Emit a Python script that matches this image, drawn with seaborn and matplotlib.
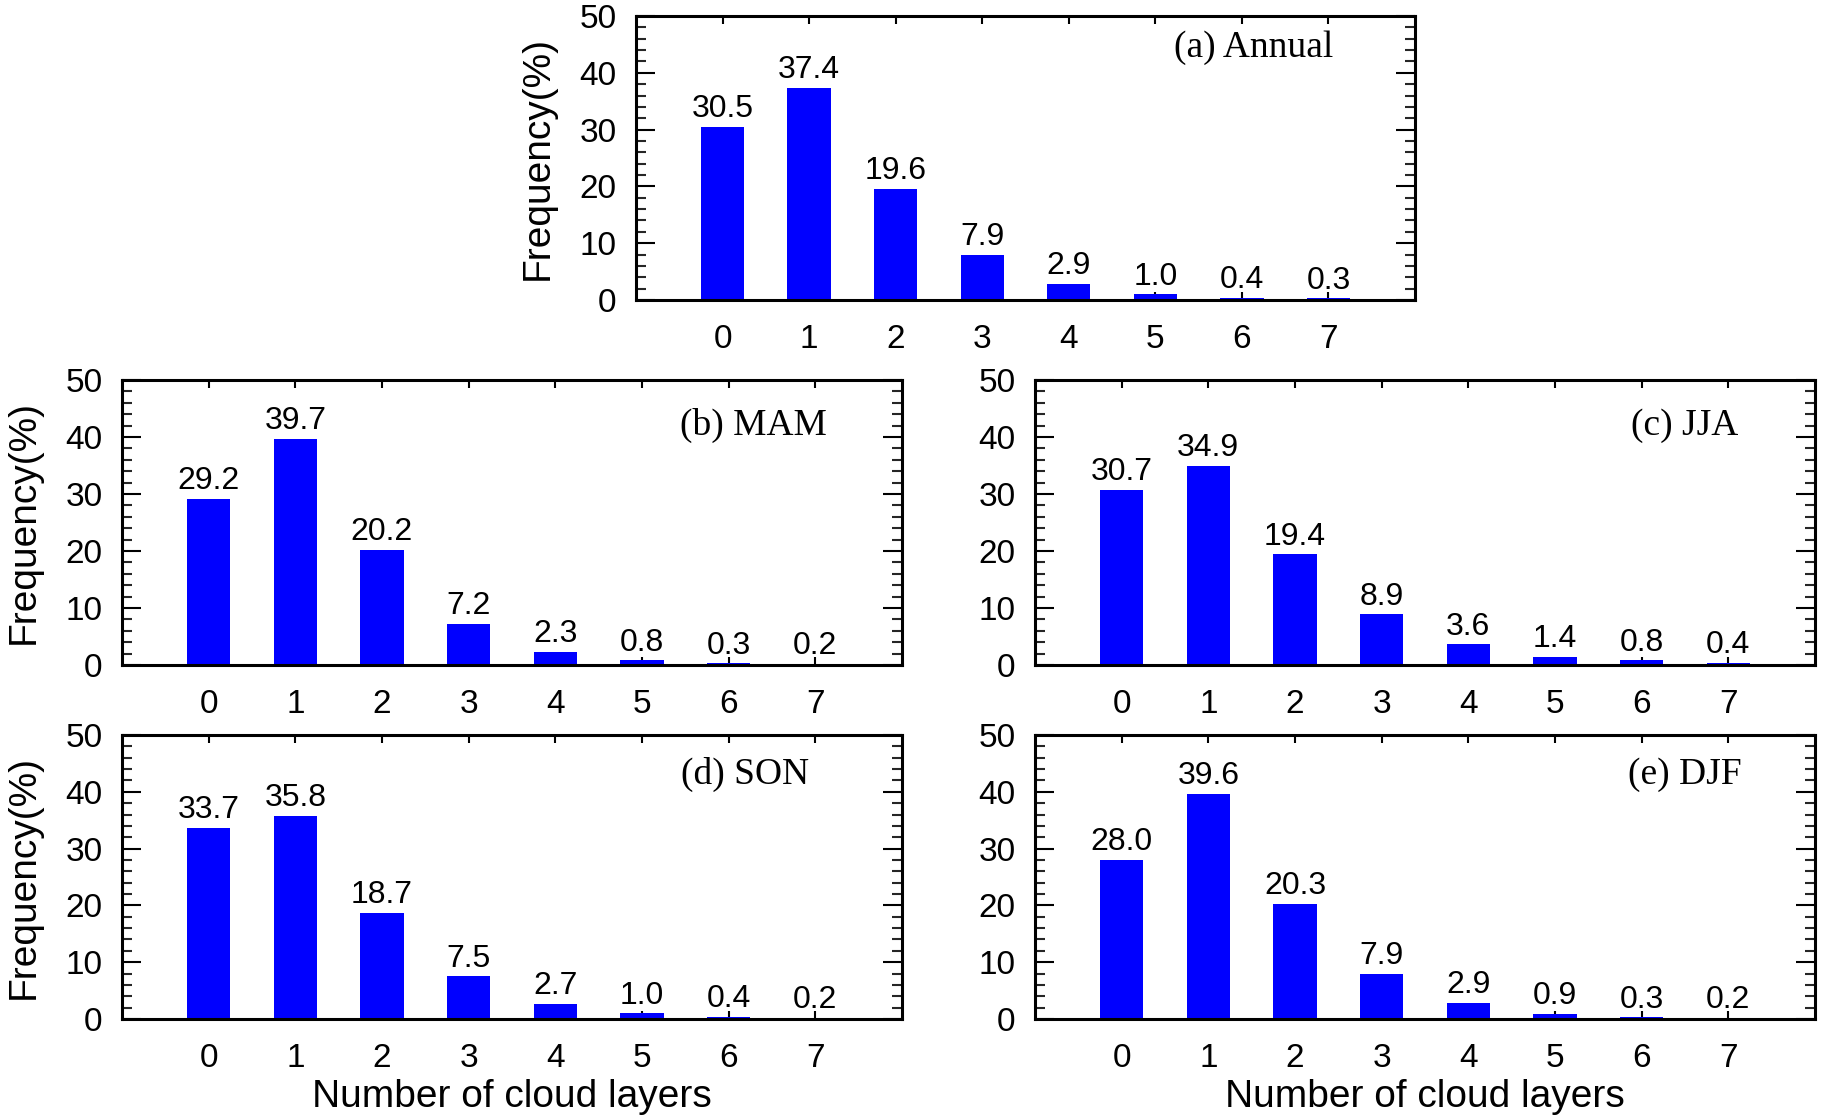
import matplotlib
matplotlib.use("Agg")
import matplotlib.pyplot as plt
import seaborn as sns
import pandas as pd
from matplotlib.ticker import MultipleLocator

layers = [0, 1, 2, 3, 4, 5, 6, 7]
annual = [30.5, 37.4, 19.6, 7.9, 2.9, 1.0, 0.4, 0.3]
mam = [29.2, 39.7, 20.2, 7.2, 2.3, 0.8, 0.3, 0.2]
jja = [30.7, 34.9, 19.4, 8.9, 3.6, 1.4, 0.8, 0.4]
son = [33.7, 35.8, 18.7, 7.5, 2.7, 1.0, 0.4, 0.2]
djf = [28.0, 39.6, 20.3, 7.9, 2.9, 0.9, 0.3, 0.2]
titles = ["(a) Annual", "(b) MAM", "(c) JJA", "(d) SON", "(e) DJF"]

sns.set_theme(style="ticks")
plt.rcParams["font.family"] = ["Liberation Sans", "DejaVu Sans"]

W, H = 1824, 1120
fig = plt.figure(figsize=(W / 100, H / 100), dpi=100)

def rect(l, t, r, b):
    return [l / W, 1 - b / H, (r - l) / W, (b - t) / H]

specs = [
    (annual, titles[0], rect(636, 16, 1415, 300), True, False, 0.895, 0.856, 27),
    (mam, titles[1], rect(122, 380, 902, 665), True, False, 0.904, 0.807, 27),
    (jja, titles[2], rect(1035, 380, 1815, 665), False, False, 0.902, 0.807, 27),
    (son, titles[3], rect(122, 735, 902, 1019), True, True, 0.881, 0.827, 27),
    (djf, titles[4], rect(1035, 735, 1815, 1019), False, True, 0.906, 0.827, 27),
]

for vals, title, r, ylab, xlab, tx, ty, tsize in specs:
    ax = fig.add_axes(r)
    df = pd.DataFrame({"layers": layers, "freq": vals})
    sns.barplot(data=df, x="layers", y="freq", color="#0000ff", saturation=1,
                width=0.5, linewidth=0, ax=ax)
    ax.set_xlim(-1, 8)
    ax.set_ylim(0, 50)
    ax.yaxis.set_major_locator(MultipleLocator(10))
    ax.yaxis.set_minor_locator(MultipleLocator(2))
    ax.tick_params(axis="y", which="major", direction="in", length=14, width=1.5,
                   left=True, right=True, labelsize=24, pad=14, colors="black")
    ax.tick_params(axis="y", which="minor", direction="in", length=7, width=1.5,
                   left=True, right=True)
    ax.tick_params(axis="x", which="major", direction="in", length=6, width=1.5,
                   bottom=True, top=True, labelsize=24, pad=17, colors="black")
    for s in ax.spines.values():
        s.set_visible(True)
        s.set_linewidth(2.2)
        s.set_color("black")
    for i, v in zip(range(len(vals)), vals):
        ax.annotate(f"{v:.1f}", xy=(i, v), xytext=(0, 7), textcoords="offset points",
                    ha="center", va="baseline", fontsize=23, color="black")
    ax.text(tx, ty, title, transform=ax.transAxes, ha="right", va="baseline",
            fontsize=tsize, family=["Liberation Serif", "DejaVu Serif"], color="black")
    if ylab:
        ax.set_ylabel("Frequency(%)", fontsize=28, labelpad=17, color="black")
    else:
        ax.set_ylabel("")
    if xlab:
        ax.set_xlabel("Number of cloud layers", fontsize=28, labelpad=4, color="black")
    else:
        ax.set_xlabel("")

fig.savefig("out.png", dpi=100)
